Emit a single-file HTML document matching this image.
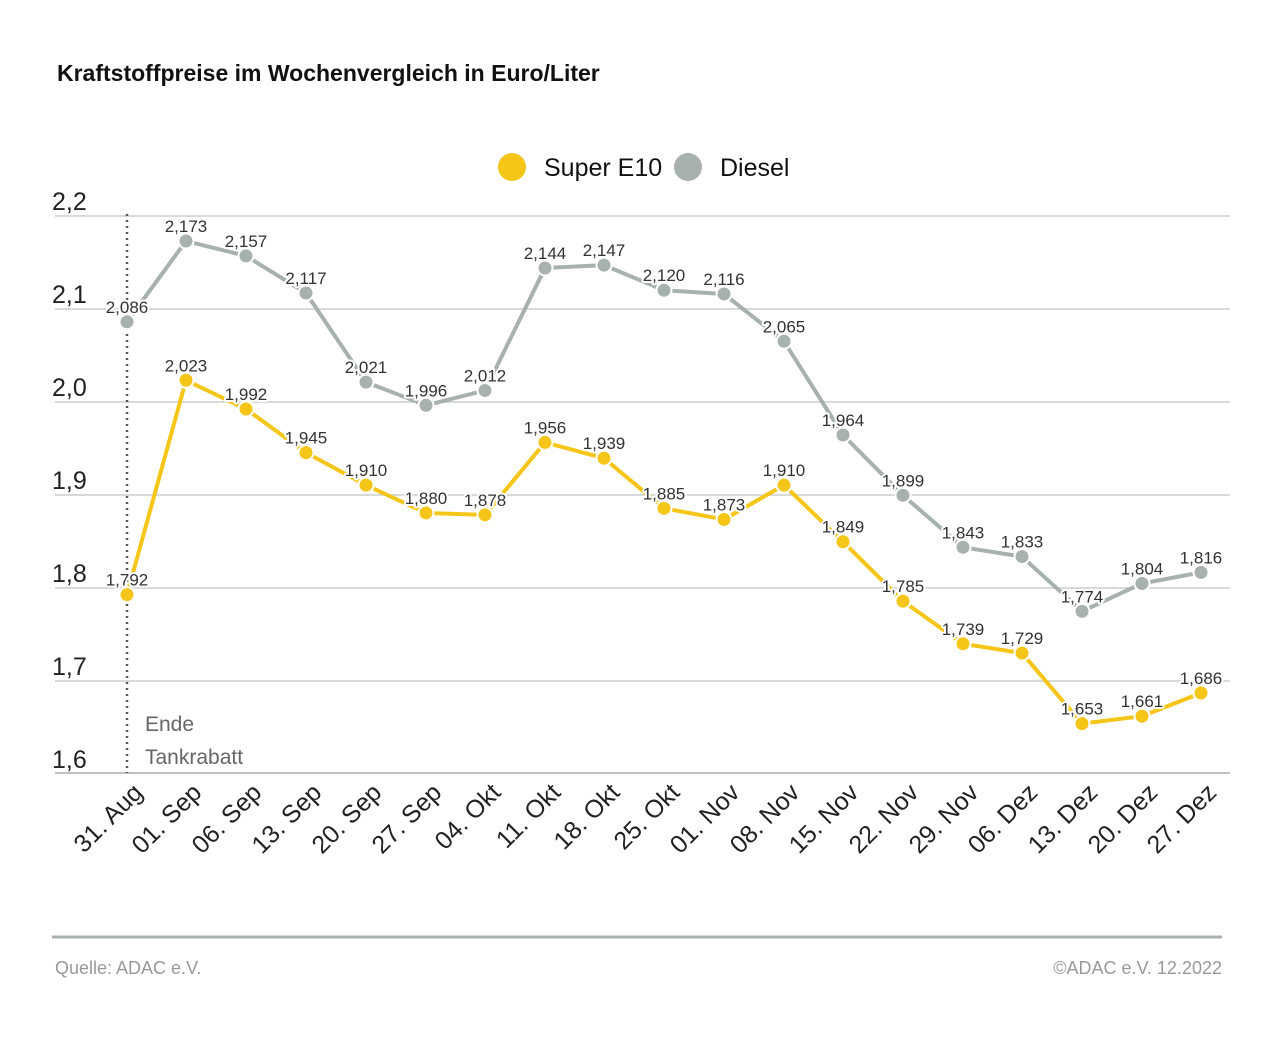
<!DOCTYPE html>
<html><head><meta charset="utf-8"><style>
body{margin:0;background:#fff}
svg{display:block;font-family:"Liberation Sans","DejaVu Sans",sans-serif}
.v{font-size:17px;fill:#333;text-anchor:middle;paint-order:stroke;stroke:#fff;stroke-width:4px;stroke-linejoin:round;font-weight:500}
.y{font-size:25px;fill:#222}
.x{font-size:25px;fill:#222;text-anchor:end}
</style></head><body>
<svg width="1280" height="1044" viewBox="0 0 1280 1044">
<text x="57" y="81" font-size="23" font-weight="bold" fill="#111">Kraftstoffpreise im Wochenvergleich in Euro/Liter</text>
<circle cx="512" cy="167" r="14" fill="#f5c518"/>
<text x="544" y="176" font-size="25" fill="#111">Super E10</text>
<circle cx="688" cy="167" r="14" fill="#a7b1ae"/>
<text x="720" y="176" font-size="25" fill="#111">Diesel</text>
<g stroke="#c9cfcd" stroke-width="1.5">
<line x1="55" x2="1230" y1="216" y2="216"/><line x1="55" x2="1230" y1="309" y2="309"/>
<line x1="55" x2="1230" y1="402" y2="402"/><line x1="55" x2="1230" y1="495" y2="495"/>
<line x1="55" x2="1230" y1="588" y2="588"/><line x1="55" x2="1230" y1="681" y2="681"/>
<line x1="55" x2="1230" y1="773" y2="773" stroke="#aab"/>
</g>
<g class="y"><text x="52" y="210">2,2</text><text x="52" y="303">2,1</text><text x="52" y="396">2,0</text><text x="52" y="489">1,9</text><text x="52" y="582">1,8</text><text x="52" y="675">1,7</text><text x="52" y="768">1,6</text></g>
<line x1="127" x2="127" y1="214" y2="773" stroke="#555" stroke-width="2.5" stroke-dasharray="2,4"/>
<text x="145" y="731" font-size="21" fill="#666">Ende</text>
<text x="145" y="764" font-size="21" fill="#666">Tankrabatt</text>
<g id="c"></g>
<line x1="52" x2="1222" y1="937" y2="937" stroke="#aab0b0" stroke-width="3"/>
<text x="55" y="974" font-size="18" fill="#999">Quelle: ADAC e.V.</text>
<text x="1222" y="974" font-size="18" fill="#999" text-anchor="end">©ADAC e.V.  12.2022</text>
</svg>
<script>
const X=[127,186,246,306,366,426,485,545,604,664,724,784,843,903,963,1022,1082,1142,1201];
const L=["31. Aug","01. Sep","06. Sep","13. Sep","20. Sep","27. Sep","04. Okt","11. Okt","18. Okt","25. Okt","01. Nov","08. Nov","15. Nov","22. Nov","29. Nov","06. Dez","13. Dez","20. Dez","27. Dez"];
const E=[1.792,2.023,1.992,1.945,1.910,1.880,1.878,1.956,1.939,1.885,1.873,1.910,1.849,1.785,1.739,1.729,1.653,1.661,1.686];
const D=[2.086,2.173,2.157,2.117,2.021,1.996,2.012,2.144,2.147,2.120,2.116,2.065,1.964,1.899,1.843,1.833,1.774,1.804,1.816];
const Y=v=>216+(2.2-v)*928;
let s="";
function ser(a,col){
 s+=`<polyline fill="none" stroke="${col}" stroke-width="4" stroke-linejoin="round" points="${a.map((v,i)=>X[i]+','+Y(v)).join(' ')}"/>`;
 a.forEach((v,i)=>{s+=`<circle cx="${X[i]}" cy="${Y(v)}" r="7.5" fill="${col}" stroke="#fff" stroke-width="2"/>`;});
 a.forEach((v,i)=>{s+=`<text class="v" x="${X[i]}" y="${Y(v)-9}">${v.toFixed(3).replace('.',',')}</text>`;});
}
ser(D,"#a7b1ae");ser(E,"#f5c518");
L.forEach((l,i)=>{s+=`<text class="x" transform="translate(${X[i]+17},${794}) rotate(-45)">${l}</text>`;});
document.getElementById("c").innerHTML=s;
</script>
</body></html>
